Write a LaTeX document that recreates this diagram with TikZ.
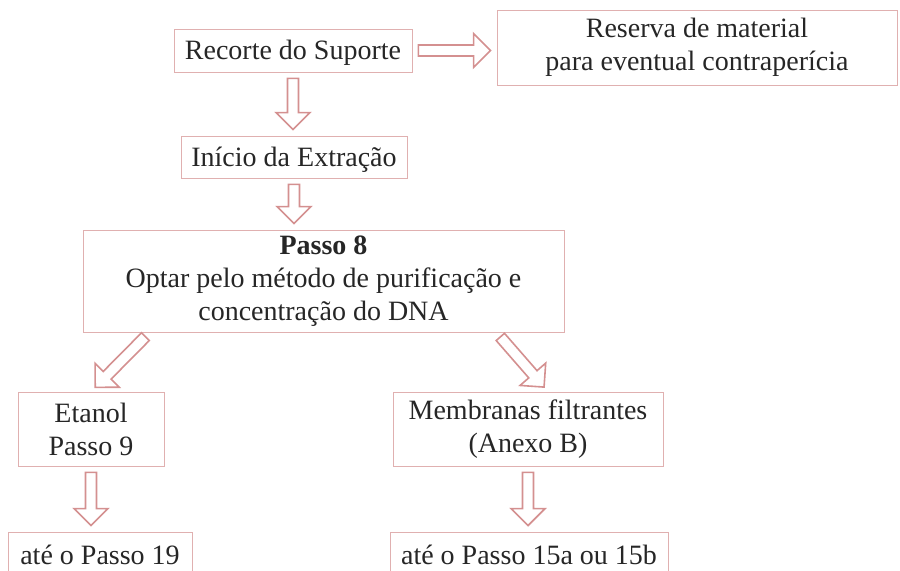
\documentclass[tikz,border=0pt]{standalone}
\usepackage{fontspec}
\setmainfont{Liberation Serif}
\usepackage{xcolor}
\usepackage{tikz}
\usetikzlibrary{calc}

\definecolor{boxline}{RGB}{224,176,176}
\definecolor{arrline}{RGB}{212,144,144}

\newcommand{\hollowarrow}[2]{%
  \coordinate (hs) at ($(#1)!3pt!(#2)$);
  \coordinate (he) at ($(#2)!3pt!(#1)$);
  \draw[blockarrow] ($(hs)!2.75pt!90:(he)$) -- ($(he)!8.5pt!(hs)!2.75pt!-90:(hs)$)
    -- ($(he)!8.5pt!(hs)!8.5pt!-90:(hs)$) -- (he)
    -- ($(he)!8.5pt!(hs)!8.5pt!90:(hs)$) -- ($(he)!8.5pt!(hs)!2.75pt!90:(hs)$)
    -- ($(hs)!2.75pt!-90:(he)$) -- cycle;}

\begin{document}
\begin{tikzpicture}[box/.style={draw=boxline, thin, align=center, inner sep=1pt, text=black!85, font=\fontsize{14}{16.5}\selectfont, execute at begin node={\rule{0pt}{12pt}}}, blockarrow/.style={draw=arrline, line width=0.8pt, fill=white}, x=0.5pt, y=-0.5pt]
\useasboundingbox (0,0) rectangle (900,570);
\clip (0,0) rectangle (900,570);

\node[box, minimum width=119pt, minimum height=21.5pt] at (293, 50.5) (0) {Recorte do Suporte};
\node[box, minimum width=200pt, minimum height=37.5pt] at (697, 47.5) (1) {Reserva de material\\para eventual contraperícia};
\node[box, minimum width=113pt, minimum height=21pt] at (294, 157) (2) {Início da Extração};
\node[box, minimum width=240.5pt, minimum height=51pt] at (323.5, 281) (3) {\textbf{Passo 8}\\Optar pelo método de purificação e\\concentração do DNA};
\node[box, minimum width=73pt, minimum height=37pt] at (91, 429) (4) {Etanol\\Passo 9};
\node[box, minimum width=135pt, minimum height=37pt] at (528, 429) (5) {Membranas filtrantes\\(Anexo B)};
\node[box, minimum width=92pt, minimum height=21pt] at (100, 553) (6) {até o Passo 19};
\node[box, minimum width=139pt, minimum height=21pt] at (529, 553) (7) {até o Passo 15a ou 15b};

\coordinate (3l) at ($(3.south west)+(67,0)$);
\coordinate (3r) at ($(3.south east)+(-68,0)$);
\coordinate (5n) at ($(5.north)+(20,0)$);

\hollowarrow{0.east}{1.west |- 0.east}
\hollowarrow{0.south}{2.north -| 0.south}
\hollowarrow{2.south}{3.north -| 2.south}
\hollowarrow{3l}{4.north}
\hollowarrow{3r}{5n}
\hollowarrow{4.south}{6.north -| 4.south}
\hollowarrow{5.south}{7.north -| 5.south}

\end{tikzpicture}
\end{document}
